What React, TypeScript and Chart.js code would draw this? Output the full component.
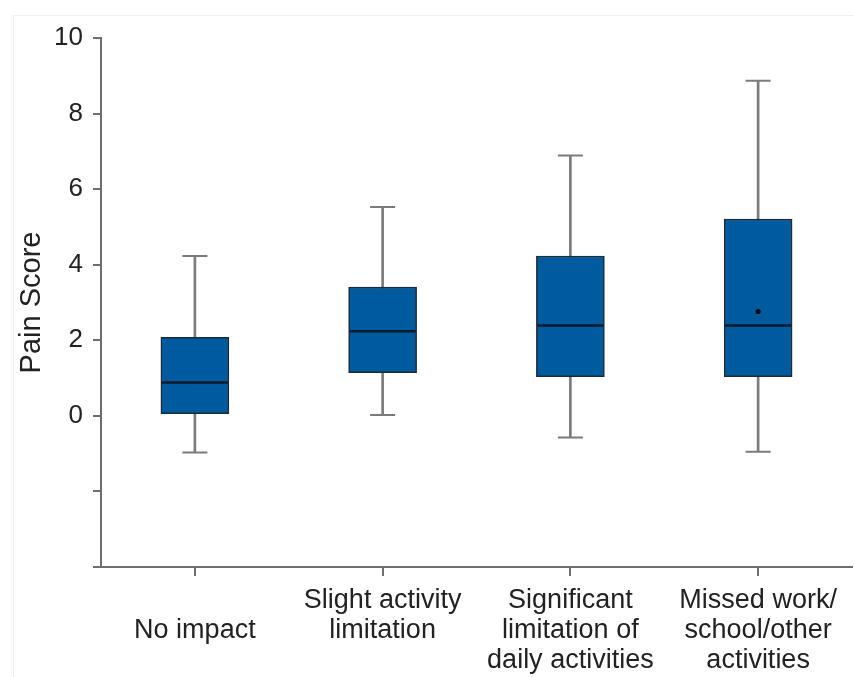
import React, { useEffect, useRef } from "react";
import { Chart, registerables } from "chart.js";

Chart.register(...registerables);

const categories: (string | string[])[] = [
  ["", "No impact"],
  ["Slight activity", "limitation"],
  ["Significant", "limitation of", "daily activities"],
  ["Missed work/", "school/other", "activities"],
];
const whiskerLow = [-0.97, 0.02, -0.57, -0.95];
const q1 = [0.06, 1.14, 1.04, 1.04];
const median = [0.88, 2.24, 2.39, 2.39];
const q3 = [2.08, 3.41, 4.23, 5.21];
const whiskerHigh = [4.23, 5.53, 6.89, 8.87];
const mean: (number | null)[] = [null, null, null, 2.76];

const yMin = -4;
const yMax = 10;
const yStep = 2;
const yTitle = "Pain Score";

const FONT = "'Liberation Sans', Arial, Helvetica, sans-serif";
const BOX_FILL = "#005a9e";
const BOX_EDGE = "#1c2b3a";
const MEDIAN_COLOR = "#0b1a2b";
const WHISKER = "#7b7b7b";
const AXIS = "#6e6e6e";
const TEXT = "#222222";

export default function App() {
  const ref = useRef<HTMLCanvasElement | null>(null);

  useEffect(() => {
    if (!ref.current) return;
    const chart = new Chart(ref.current, {
      type: "bar",
      data: {
        labels: categories,
        datasets: [
          {
            type: "bar",
            label: "whisker",
            data: whiskerLow.map((lo, i) => [lo, whiskerHigh[i]]),
            backgroundColor: WHISKER,
            borderWidth: 0,
            barThickness: 2,
            grouped: false,
            order: 6,
          } as any,
          {
            type: "bar",
            label: "box",
            data: q1.map((lo, i) => [lo, q3[i]]),
            backgroundColor: BOX_FILL,
            borderColor: BOX_EDGE,
            borderWidth: 1.5,
            borderSkipped: false,
            barThickness: 68,
            grouped: false,
            order: 5,
          } as any,
          {
            type: "line",
            label: "cap high",
            data: whiskerHigh,
            showLine: false,
            pointStyle: "line",
            pointRadius: 12.5,
            pointBorderColor: WHISKER,
            pointBorderWidth: 2,
            borderColor: WHISKER,
            order: 4,
          } as any,
          {
            type: "line",
            label: "cap low",
            data: whiskerLow,
            showLine: false,
            pointStyle: "line",
            pointRadius: 12.5,
            pointBorderColor: WHISKER,
            pointBorderWidth: 2,
            borderColor: WHISKER,
            order: 3,
          } as any,
          {
            type: "line",
            label: "median",
            data: median,
            showLine: false,
            pointStyle: "line",
            pointRadius: 33,
            pointBorderColor: MEDIAN_COLOR,
            pointBorderWidth: 2.5,
            borderColor: MEDIAN_COLOR,
            order: 2,
          } as any,
          {
            type: "line",
            label: "mean",
            data: mean,
            showLine: false,
            pointStyle: "circle",
            pointRadius: 2.5,
            pointBackgroundColor: "#000000",
            pointBorderColor: "#000000",
            pointBorderWidth: 0,
            borderColor: "#000000",
            order: 1,
          } as any,
        ],
      },
      options: {
        animation: false,
        responsive: false,
        maintainAspectRatio: false,
        layout: { autoPadding: false, padding: { top: 38, right: 2, left: 0, bottom: 0 } },
        plugins: {
          legend: { display: false },
          tooltip: { enabled: false },
        },
        scales: {
          x: {
            type: "category",
            offset: true,
            grid: {
              display: true,
              offset: false,
              drawOnChartArea: false,
              drawTicks: true,
              tickLength: 9,
              color: AXIS,
              lineWidth: 2,
            },
            border: { display: true, color: AXIS, width: 2 },
            ticks: {
              color: TEXT,
              font: { family: FONT, size: 27, lineHeight: 1.1 },
              padding: 10,
              maxRotation: 0,
              autoSkip: false,
            },
            afterFit: (scale: any) => {
              scale.height = 110;
              scale.paddingLeft = 0;
              scale.paddingRight = 0;
            },
          },
          y: {
            type: "linear",
            min: yMin,
            max: yMax,
            grid: {
              display: true,
              drawOnChartArea: false,
              drawTicks: true,
              tickLength: 8,
              color: AXIS,
              lineWidth: 2,
            },
            border: { display: true, color: AXIS, width: 2 },
            ticks: {
              stepSize: yStep,
              color: TEXT,
              font: { family: FONT, size: 26 },
              padding: 10,
              callback: (v: any) => (Number(v) >= 0 ? String(v) : ""),
            },
            title: {
              display: true,
              text: yTitle,
              color: TEXT,
              font: { family: FONT, size: 29 },
              padding: { top: 15, bottom: 0 },
            },
            afterFit: (scale: any) => {
              scale.width = 101;
            },
          },
        },
      },
    });
    return () => chart.destroy();
  }, []);

  return (
    <div
      style={{
        position: "fixed",
        left: 0,
        top: 0,
        width: 854,
        height: 677,
        background: "#ffffff",
      }}
    >
      <div
        style={{
          position: "absolute",
          left: 13,
          top: 15,
          right: 0,
          bottom: 0,
          borderLeft: "1px solid #f1f1f1",
          borderTop: "1px solid #f1f1f1",
        }}
      />
      <canvas
        ref={ref}
        width={854}
        height={677}
        style={{ position: "absolute", left: 0, top: 0, width: 854, height: 677 }}
      />
    </div>
  );
}
